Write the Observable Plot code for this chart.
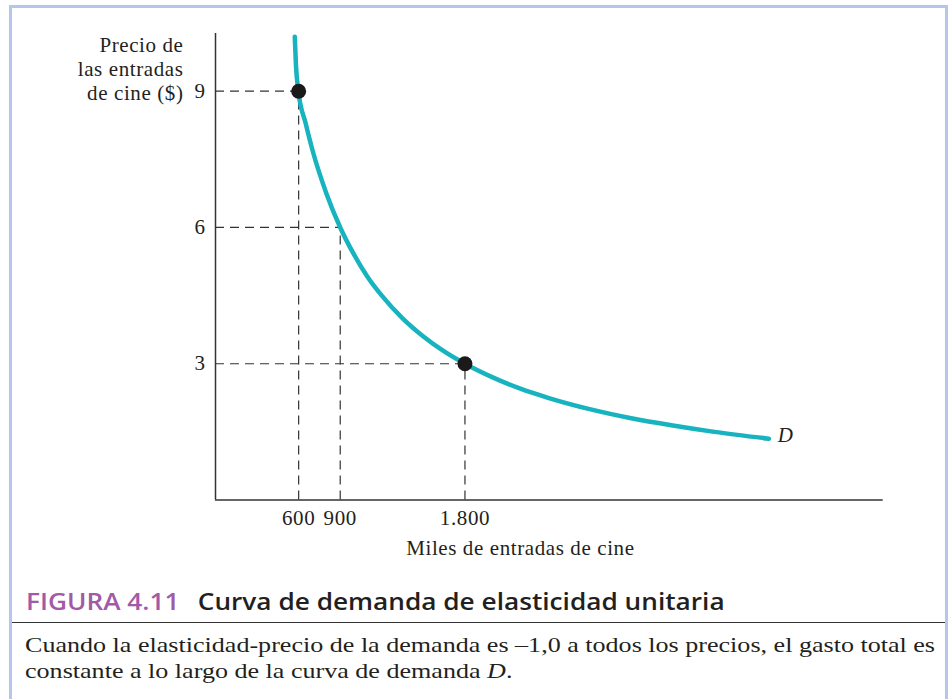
<!DOCTYPE html>
<html><head><meta charset="utf-8">
<script src="https://cdn.jsdelivr.net/npm/d3@7"></script>
<script src="https://cdn.jsdelivr.net/npm/@observablehq/plot@0.6"></script>
<style>
html,body{margin:0;padding:0;background:#fff;width:948px;height:699px;overflow:hidden;}
#frame{position:absolute;left:9px;top:5px;width:933px;height:720px;border:3px solid #b6c6ea;border-bottom:none;}
#chart{position:absolute;left:0;top:0;}
#chart text{letter-spacing:0.6px;}
#title{position:absolute;left:26px;top:588px;white-space:nowrap;font-family:"Open Sans",sans-serif;font-weight:600;font-size:23px;line-height:26px;color:#231f20;transform:scaleX(1.14);transform-origin:0 0;}
#title .fig{color:#a25aa6;margin-right:16px;}
#rule{position:absolute;left:12px;width:933px;top:622px;height:0;border-top:1.5px solid #333;}
#caption{position:absolute;left:25px;top:632px;white-space:nowrap;font-family:"Liberation Serif",serif;font-size:22px;line-height:25.5px;color:#231f20;transform:scaleX(1.185);transform-origin:0 0;}
</style>
</head><body>
<div id="frame"></div>
<div id="chart"></div>
<div id="title"><span class="fig">FIGURA 4.11</span>Curva de demanda de elasticidad unitaria</div>
<div id="rule"></div>
<div id="caption">Cuando la elasticidad-precio de la demanda es –1,0 a todos los precios, el gasto total es<br>constante a lo largo de la curva de demanda <i>D</i>.</div>
<script>
const xTicks = [600, 900, 1800];
const xTickLabels = ["600", "900", "1.800"];
const yTicks = [3, 6, 9];
const yTickLabels = ["3", "6", "9"];
const xTitle = "Miles de entradas de cine";
const yTitle = "Precio de\nlas entradas\nde cine ($)";
const curveName = "D";
const curveQ = [572, 580, 598, 650, 700, 800, 900, 1000, 1100, 1200, 1350, 1500, 1650, 1800, 2000, 2200, 2400, 2700, 3000, 3300, 3600, 3993];
const curveP = [10.2, 9.6, 9.0, 8.3, 7.7, 6.75, 6.0, 5.4, 4.9, 4.5, 4.0, 3.6, 3.27, 3.0, 2.7, 2.45, 2.25, 2.0, 1.8, 1.64, 1.5, 1.35];
const pointQ = [600, 1800];
const pointP = [9, 3];
const guideQ = [600, 900, 1800];
const guideP = [9, 6, 3];

const curve = curveQ.map((q, i) => ({q, p: curveP[i]}));
const points = pointQ.map((q, i) => ({q, p: pointP[i]}));
const guides = guideQ.map((q, i) => ({q, p: guideP[i]}));
const last = curve[curve.length - 1];

const dash = {stroke: "#333", strokeWidth: 1.2, strokeDasharray: "9,6"};
const chart = Plot.plot({
  width: 948, height: 580,
  marginLeft: 215, marginRight: 65.3, marginTop: 33, marginBottom: 80.5,
  x: {domain: [0, 4818]},
  y: {domain: [0, 10.27]},
  style: {fontFamily: "'Liberation Serif', serif", fontSize: "21px", color: "#231f20", background: "transparent"},
  marks: [
    Plot.ruleY(guides, {y: "p", x1: 0, x2: "q", ...dash}),
    Plot.ruleX(guides, {x: "q", y1: 0, y2: "p", ...dash}),
    Plot.line(curve, {x: "q", y: "p", stroke: "#17b3bf", strokeWidth: 4.5, curve: "monotone-x"}),
    Plot.dot(points, {x: "q", y: "p", r: 7.5, fill: "#1a1a1a", stroke: "none"}),
    Plot.text([last], {x: "q", y: "p", text: () => curveName, dx: 9, dy: -3, textAnchor: "start", fontStyle: "italic", fill: "#231f20"}),
    Plot.axisX({ticks: xTicks, tickFormat: d => xTickLabels[xTicks.indexOf(d)], tickSize: 0, tickPadding: 10, label: null, fill: "#231f20"}),
    Plot.axisY({ticks: yTicks, tickFormat: d => yTickLabels[yTicks.indexOf(d)], tickSize: 0, tickPadding: 10, label: null, fill: "#231f20"}),
    Plot.ruleX([0], {stroke: "#333", strokeWidth: 1.5}),
    Plot.ruleY([0], {stroke: "#333", strokeWidth: 1.5}),
    Plot.text([xTitle], {x: () => 2200, y: () => 0, text: d => d, lineAnchor: "top", dy: 40.5, fill: "#231f20"}),
    Plot.text([yTitle], {x: () => 0, y: () => 10.27, text: d => d, lineAnchor: "top", textAnchor: "end", dx: -32, dy: 2, lineHeight: 1.13, fill: "#231f20"})
  ]
});
document.getElementById("chart").appendChild(chart);
</script>
</body></html>
